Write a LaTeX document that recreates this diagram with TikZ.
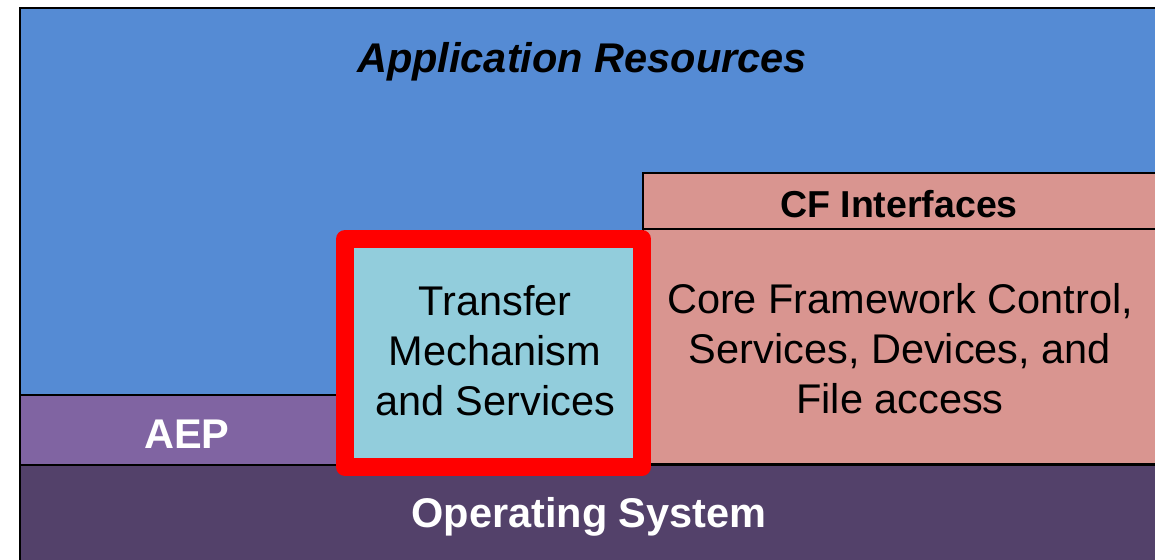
\documentclass[tikz,border=0pt]{standalone}
\usepackage{fontspec}
\setmainfont{Liberation Sans}
\definecolor{appblue}{HTML}{558BD4}
\definecolor{cfpink}{HTML}{D99590}
\definecolor{tmsblue}{HTML}{92CDDC}
\definecolor{aeppurple}{HTML}{8064A2}
\definecolor{osplum}{HTML}{53416A}
\begin{document}
\begin{tikzpicture}[x=1pt,y=-1pt,
  layer/.style={draw=black,line width=1.3pt},
  bigtext/.style={inner sep=0pt,anchor=base,font=\fontsize{41.5}{50}\selectfont},
  hltbox/.style={draw=red,line width=18pt,line join=round,fill=tmsblue}]
\useasboundingbox (0,0) rectangle (1155,559);
\clip (0,0) rectangle (1155,559);
% stacked layers
\path[layer,fill=appblue]   (20,8)    rectangle (1170,395);
\path[layer,fill=aeppurple] (20,395)  rectangle (500,465);
\path[layer,fill=osplum]    (20,465)  rectangle (1170,580);
\path[layer,fill=cfpink]    (643,173) rectangle (1170,229);
\path[layer,fill=cfpink]    (643,229) rectangle (1170,464);
% highlighted transfer mechanism block
\path[hltbox] (345,239) rectangle (642,467);
% labels
\node[bigtext,font=\fontsize{41.5}{50}\selectfont\bfseries\itshape] (app) at (582,73) {Application Resources};
\node[bigtext,font=\fontsize{37.5}{45}\selectfont\bfseries] (cfi) at (899,217) {CF Interfaces};
\node[bigtext] (tms) at (495,315) {\begin{tabular}[t]{@{}c@{}}Transfer\\Mechanism\\and Services\end{tabular}};
\node[bigtext] (core) at (900,313) {\begin{tabular}[t]{@{}c@{}}Core Framework Control,\\Services, Devices, and\\File access\end{tabular}};
\node[bigtext,font=\fontsize{41.5}{50}\selectfont\bfseries,text=white] (aep) at (187,448) {AEP};
\node[bigtext,font=\fontsize{41.5}{50}\selectfont\bfseries,text=white] (os) at (589,527) {Operating System};
\end{tikzpicture}
\end{document}
